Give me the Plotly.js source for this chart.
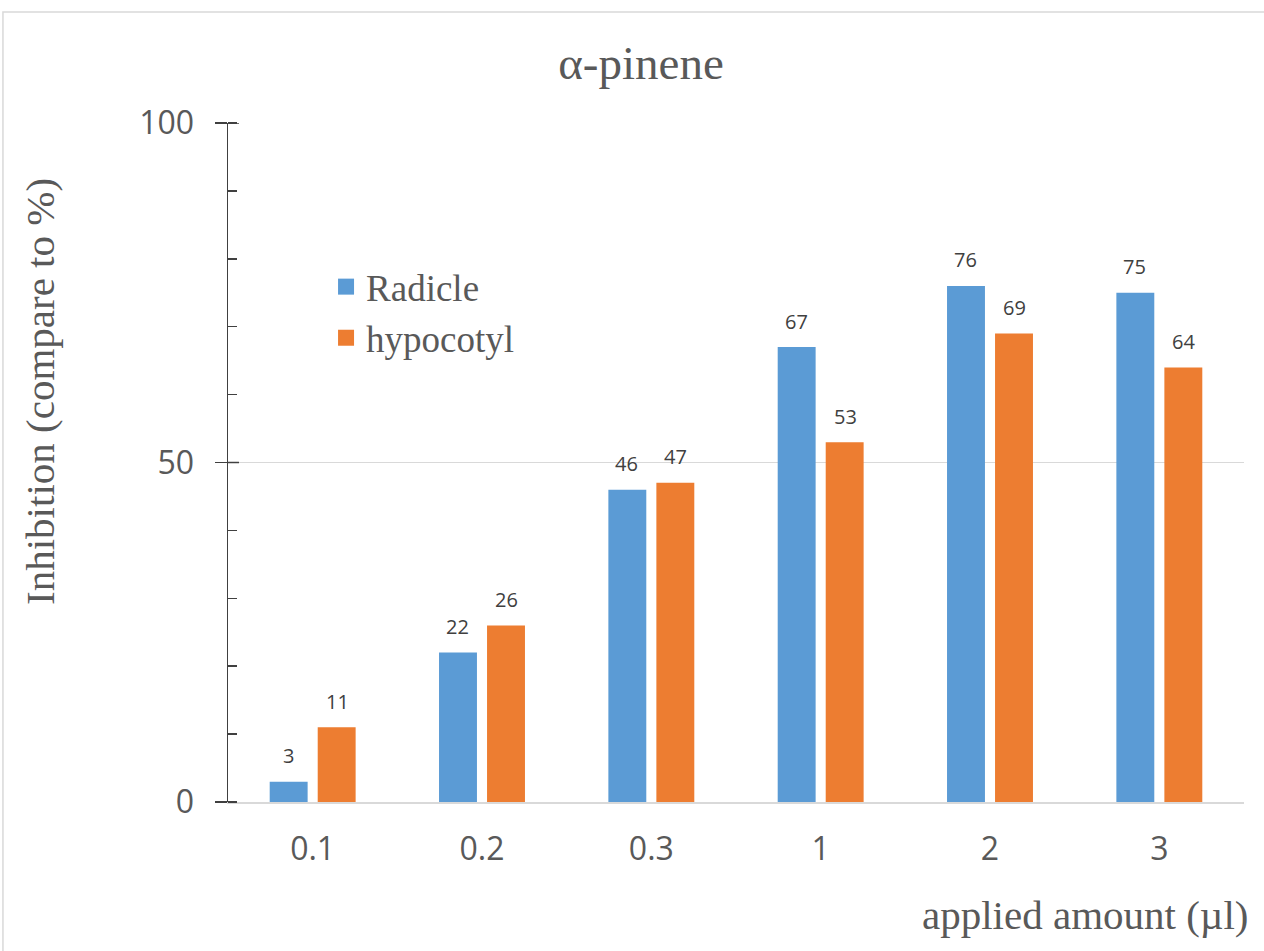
<!DOCTYPE html>
<html>
<head>
<meta charset="utf-8">
<script src="https://cdn.plot.ly/plotly-3.0.1.min.js"></script>
<style>
  html, body { margin: 0; padding: 0; background: #ffffff; }
  #chart { width: 1264px; height: 951px; }
</style>
</head>
<body>
<div id="chart"></div>
<script>
// Applied amounts (µl) and inhibition values (%)
const amounts = ['0.1', '0.2', '0.3', '1', '2', '3'];
const radicle = [3, 22, 46, 67, 76, 75];
const hypocotyl = [11, 26, 47, 53, 69, 64];
const seriesNames = ['Radicle', 'hypocotyl'];
const yMajorTicks = [0, 50, 100];

const BLUE = '#5B9BD5';
const ORANGE = '#ED7D31';
const SERIF = 'Liberation Serif, Times New Roman, serif';
const SANS = 'Open Sans, Liberation Sans, sans-serif';

const bars = [
  { name: seriesNames[0], values: radicle, color: BLUE, shift: -24.5 },
  { name: seriesNames[1], values: hypocotyl, color: ORANGE, shift: 24.5 }
];

const traces = bars.map(b => ({
  type: 'bar',
  x: amounts,
  y: b.values,
  name: b.name,
  marker: { color: b.color },
  showlegend: false,
  hoverinfo: 'x+y+name'
}));

// legend entries with larger square swatches
bars.forEach(b => traces.push({
  type: 'scatter',
  mode: 'markers',
  x: [null],
  y: [null],
  name: b.name,
  marker: { symbol: 'square', size: 18, color: b.color },
  showlegend: true,
  hoverinfo: 'skip'
}));

// value labels above every bar (x given as category index)
const annotations = [];
bars.forEach(b => {
  b.values.forEach((v, i) => {
    annotations.push({
      x: i, y: v, xref: 'x', yref: 'y',
      text: String(v), showarrow: false,
      xshift: b.shift, yshift: 26,
      xanchor: 'center', yanchor: 'middle',
      font: { family: SANS, size: 20, color: '#404040' }
    });
  });
});

// axis titles
annotations.push({
  xref: 'paper', yref: 'paper', x: -0.185, y: 0.604,
  text: 'Inhibition (compare to %)', showarrow: false, textangle: -90,
  xanchor: 'center', yanchor: 'middle',
  font: { family: SERIF, size: 41, color: '#595959' }
});
annotations.push({
  xref: 'paper', yref: 'paper', x: 1.006, y: -0.166,
  text: 'applied amount (µl)', showarrow: false,
  xanchor: 'right', yanchor: 'middle',
  font: { family: SERIF, size: 41, color: '#595959' }
});

// inner halves of the major y ticks (crossing tick marks)
const shapes = yMajorTicks.filter(t => t > 0).map(t => ({
  type: 'line', xref: 'paper', yref: 'y',
  x0: 0, x1: 11 / 1016, y0: t, y1: t,
  line: { color: '#404040', width: 1.5 }
}));
// outer chart border
shapes.push({
  type: 'rect', xref: 'paper', yref: 'paper',
  x0: -0.2215, x1: 1.2, y0: -0.4, y1: 1.1635,
  line: { color: '#d9d9d9', width: 1.5 }, layer: 'below'
});

const layout = {
  width: 1264, height: 951,
  margin: { l: 228, r: 20, t: 123, b: 149 },
  paper_bgcolor: '#ffffff', plot_bgcolor: '#ffffff',
  barmode: 'group',
  bargap: 0.433,
  bargroupgap: 0.21,
  title: {
    text: 'α-pinene',
    font: { family: SERIF, size: 47, color: '#595959' },
    xref: 'paper', x: 0.4065, xanchor: 'center',
    yref: 'container', y: 0.934, yanchor: 'middle'
  },
  xaxis: {
    type: 'category',
    showline: true, linecolor: '#d9d9d9', linewidth: 2,
    ticks: '', showgrid: false, zeroline: false,
    tickfont: { family: SANS, size: 32, color: '#595959' },
    ticklabelstandoff: 18
  },
  yaxis: {
    range: [0, 100],
    tickvals: yMajorTicks,
    ticks: 'outside', ticklen: 12, tickwidth: 1.5, tickcolor: '#404040',
    showline: true, linecolor: '#404040', linewidth: 1.5,
    showgrid: true, gridcolor: '#d9d9d9', gridwidth: 1.5,
    zeroline: false,
    tickfont: { family: SANS, size: 32, color: '#595959' },
    ticklabelstandoff: 14,
    minor: { dtick: 10, ticks: 'inside', ticklen: 9, tickwidth: 1.5, tickcolor: '#404040', showgrid: false }
  },
  legend: {
    x: 0.0965, xanchor: 'left', y: 0.804, yanchor: 'top',
    bgcolor: 'rgba(0,0,0,0)',
    font: { family: SERIF, size: 37, color: '#595959' },
    tracegroupgap: 0
  },
  annotations: annotations,
  shapes: shapes,
  showlegend: true
};

Plotly.newPlot('chart', traces, layout, { displayModeBar: false, staticPlot: true });
</script>
</body>
</html>
